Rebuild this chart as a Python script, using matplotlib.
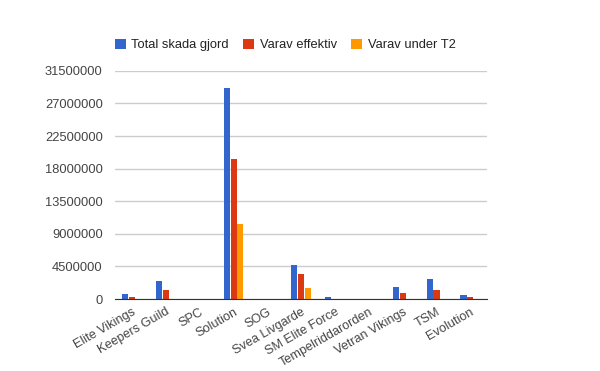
import matplotlib
matplotlib.use('Agg')
import matplotlib.pyplot as plt
import numpy as np

categories = ['Elite Vikings', 'Keepers Guild', 'SPC', 'Solution', 'SOG', 'Svea Livgarde',
              'SM Elite Force', 'Tempelriddarorden', 'Vetran Vikings', 'TSM', 'Evolution']
total = [730000, 2520000, 0, 29150000, 0, 4730000, 220000, 0, 1700000, 2800000, 600000]
effektiv = [320000, 1280000, 0, 19350000, 0, 3490000, 0, 0, 870000, 1280000, 300000]
under_t2 = [0, 0, 0, 10300000, 0, 1560000, 0, 0, 0, 0, 0]
series_names = ['Total skada gjord', 'Varav effektiv', 'Varav under T2']
colors = ['#3366cc', '#dc3912', '#ff9900']
yticks = [0, 4500000, 9000000, 13500000, 18000000, 22500000, 27000000, 31500000]

plt.rcParams['font.family'] = 'Liberation Sans'
fs = 9.3
fig = plt.figure(figsize=(6, 3.71), dpi=100)
ax = fig.add_axes([0.192, 0.194, 0.62, 0.615])

x = np.arange(len(categories))
w = 0.18
for i, (vals, name, c) in enumerate(zip([total, effektiv, under_t2], series_names, colors)):
    ax.bar(x + (i - 1) * (w + 0.02), vals, width=w, color=c, label=name, zorder=3)

ax.set_xlim(-0.5, len(categories) - 0.5)
ax.set_ylim(0, 31500000)
ax.set_yticks(yticks)
ax.set_yticklabels([str(v) for v in yticks], fontsize=fs, color='#444444')
ax.set_xticks(x)
ax.set_xticklabels(categories, rotation=30, ha='right', rotation_mode='anchor',
                   fontsize=9.1, color='#444444')
ax.tick_params(axis='y', length=0, pad=9)
ax.tick_params(axis='x', length=0, pad=5)
ax.grid(axis='y', color='#cccccc', linewidth=1, zorder=0)
for s in ['top', 'right', 'left']:
    ax.spines[s].set_visible(False)
ax.spines['bottom'].set_color('#333333')
ax.spines['bottom'].set_zorder(4)

fig.legend(loc='center left', bbox_to_anchor=(0.191, 1 - 45 / 371), ncol=3, frameon=False,
           fontsize=fs, handlelength=0.85, handleheight=0.85, handletextpad=0.45,
           columnspacing=1.1, borderaxespad=0, borderpad=0, labelcolor='#222222')

fig.savefig('out.png', dpi=100)
